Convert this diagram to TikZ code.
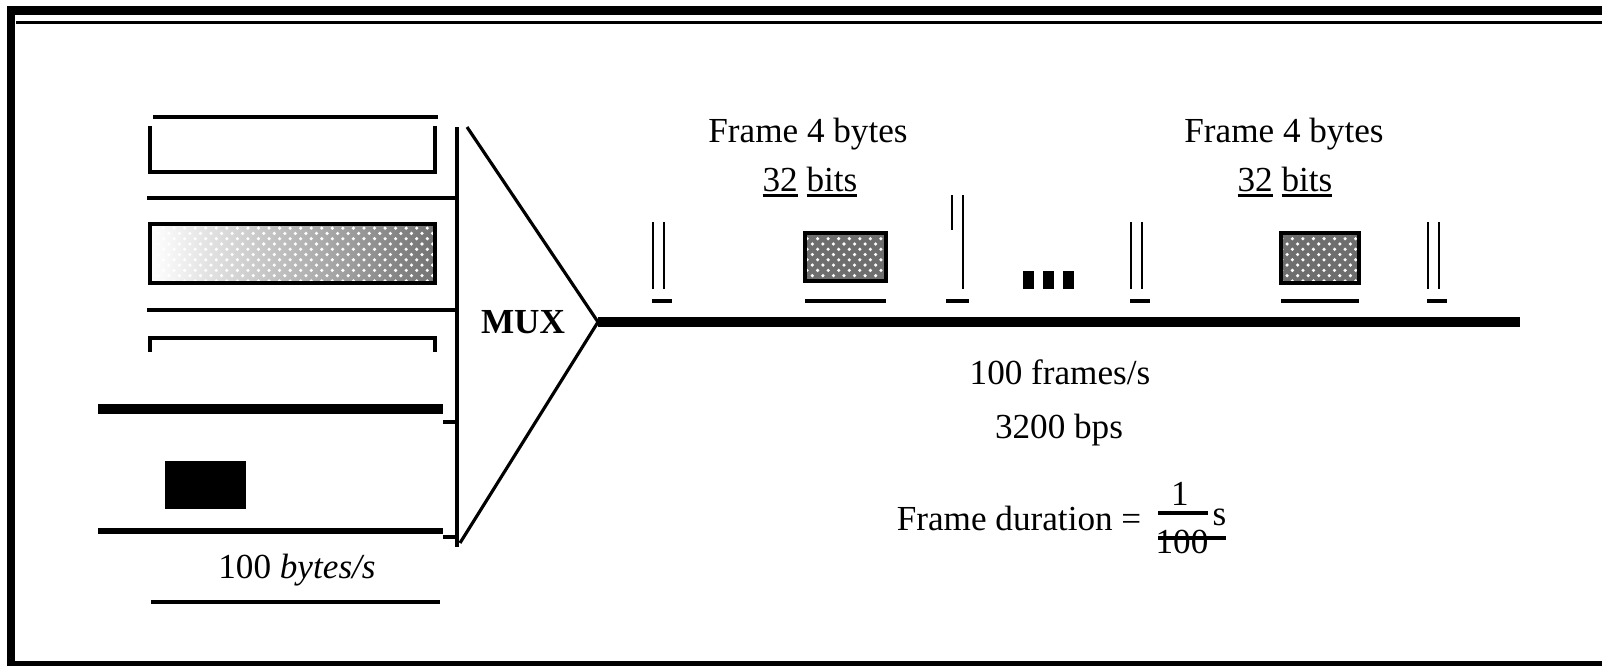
\documentclass[tikz,border=0pt]{standalone}
\usepackage{fontspec}
\setmainfont{Liberation Serif}
\usepackage{xcolor}
\usepackage{tikz}
\usetikzlibrary{patterns}
\definecolor{mxgrain}{RGB}{110,110,110}

\newcommand{\ulbit}[1]{\setbox0\hbox{#1}\rlap{\rule[-1.8pt]{\wd0}{0.85pt}}\box0\relax}

\begin{document}
\begin{tikzpicture}[x=0.01cm,y=-0.01cm,
  font=\fontsize{10}{12}\selectfont,
  txt/.style={anchor=base,inner sep=0pt},
  rule/.style={line width=0.9pt},
  heavy/.style={line width=2.6pt},
  bar/.style={line width=0.75pt},
  grain/.style={pattern=crosshatch dots,pattern color=white}
]
  \useasboundingbox (0,0) rectangle (1602,666);
  % page border
  \fill (7,6) rectangle (1602,15);
  \fill (16,21) rectangle (1602,24);
  \fill (7,6) rectangle (15,666);
  \fill (7,661) rectangle (1602,666);

  % input channels
  \draw[rule] (153,117)--(438,117);
  \draw[rule] (150,126)--(150,172)--(435,172)--(435,126);
  \draw[rule,line width=1.1pt] (147,198)--(457,198);
  \fill[left color=white,right color=black!55] (150,224) rectangle (435,283);
  \fill[grain] (150,224) rectangle (435,283);
  \draw[rule] (150,224) rectangle (435,283);
  \draw[rule,line width=1.1pt] (147,310)--(457,310);
  \draw[rule] (150,352)--(150,338)--(435,338)--(435,352);
  \draw[heavy] (98,409)--(443,409);
  \draw[rule] (443,422)--(457,422);
  \fill (165,461) rectangle (246,509);
  \draw[line width=1.5pt] (98,531)--(443,531);
  \draw[rule] (443,537)--(457,537);
  \node[txt] (inrate) at (297,578) {100 \textit{bytes/s}};
  \draw[rule] (151,602)--(440,602);

  % multiplexer
  \coordinate (muxtop) at (467,127);
  \coordinate (muxtip) at (598,322);
  \coordinate (muxbot) at (460,543);
  \draw[rule] (457,127)--(457,547);
  \draw[rule] (muxtop)--(muxtip)--(muxbot);
  \node[font=\fontsize{10}{12}\selectfont\bfseries] (mux) at (523,322) {MUX};

  % output link
  \coordinate (linkend) at (1520,322);
  \draw[line width=3.1pt] (muxtip)--(linkend);

  % frame flags
  \foreach \x in {653,1131,1428} {
    \draw[bar] (\x,222)--(\x,289);
    \draw[bar] (\x+11,222)--(\x+11,289);
    \draw[rule] (\x-1,301)--(\x+19,301);
  }
  \draw[bar] (952,195)--(952,230);
  \draw[bar] (963,195)--(963,289);
  \draw[rule] (946,301)--(969,301);

  % slots
  \fill[mxgrain] (805,233) rectangle (886,281);
  \fill[grain] (805,233) rectangle (886,281);
  \draw[rule] (805,233) rectangle (886,281);
  \draw[rule] (805,301)--(886,301);
  \fill[mxgrain] (1281,233) rectangle (1359,283);
  \fill[grain] (1281,233) rectangle (1359,283);
  \draw[rule] (1281,233) rectangle (1359,283);
  \draw[rule] (1281,301)--(1359,301);
  \foreach \x in {1023,1043,1063}
    \fill (\x,271) rectangle (\x+11,289);

  % labels
  \node[txt] (fr1) at (808,142) {Frame 4 bytes};
  \node[txt] (bt1) at (810,191) {\ulbit{32} \ulbit{bits}};
  \node[txt] (fr2) at (1284,142) {Frame 4 bytes};
  \node[txt] (bt2) at (1285,191) {\ulbit{32} \ulbit{bits}};
  \node[txt] (rate) at (1060,384) {100 frames/s};
  \node[txt] (bps) at (1059,438) {3200 bps};
  \node[txt,anchor=base east] (dur) at (1142,530) {Frame duration =};
  \node[txt] (num) at (1180,505) {1};
  \node[txt] (den) at (1182,553) {100};
  \node[txt,anchor=base west] (sec) at (1212,525) {s};
  \draw[rule] (1158,513)--(1208,513);
  \draw[rule] (1158,538)--(1226,538);
\end{tikzpicture}
\end{document}
